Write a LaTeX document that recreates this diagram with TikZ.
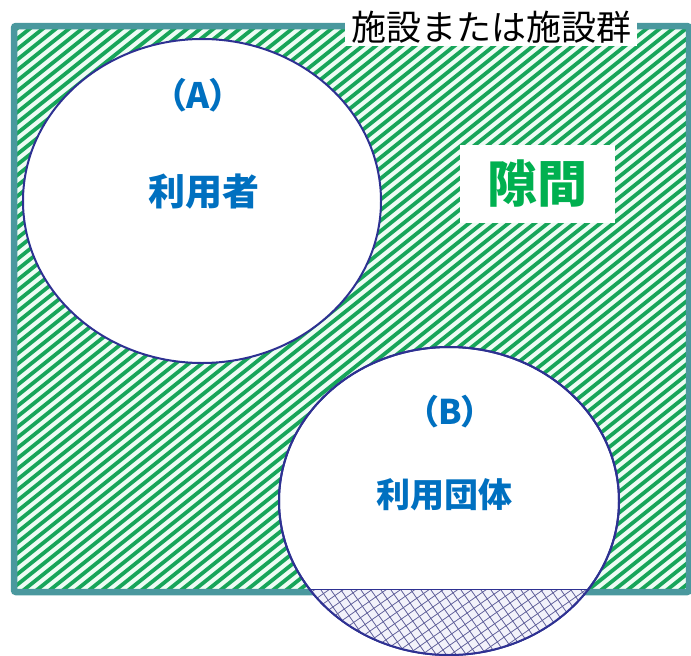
\documentclass[tikz,border=0pt]{standalone}
\usepackage{fontspec}
\setmainfont{Noto Sans CJK JP}
\newfontfamily\jpp[RawFeature=+palt]{Noto Sans CJK JP}
\usetikzlibrary{shapes.geometric}
\definecolor{frameteal}{HTML}{4A989E}
\definecolor{hatchgreen}{HTML}{17A55A}
\definecolor{hatchbg}{HTML}{EEFCF4}
\definecolor{circnavy}{HTML}{2E3192}
\definecolor{txtblue}{HTML}{0070C0}
\definecolor{txtgreen}{HTML}{00B050}
\definecolor{xhline}{HTML}{5A5A96}
\definecolor{xhbg}{HTML}{F2F2FA}
\tikzset{
  hatchline/.style={draw=hatchgreen, line width=3.8pt},
  framebox/.style={draw=frameteal, line width=6.5pt, rounded corners=2pt},
  circ/.style={ellipse, draw=circnavy, line width=2pt, fill=white, inner sep=0pt},
  circline/.style={ellipse, draw=circnavy, line width=2pt, inner sep=0pt},
  bluetxt/.style={text=txtblue, font=\jpp\bfseries\fontsize{#1}{#1}\selectfont, inner sep=0pt},
  labelbox/.style={fill=white, inner xsep=6pt, inner ysep=3pt, font=\fontsize{35}{38}\selectfont},
  gapbox/.style={fill=white, text=txtgreen, font=\bfseries\fontsize{50}{52}\selectfont, minimum width=155pt, minimum height=78pt, inner sep=0pt},
  xhatch/.style={draw=xhline, line width=0.75pt}
}
\begin{document}
\begin{tikzpicture}[x=1pt,y=-1pt]
\useasboundingbox (0,0) rectangle (691,656);
% hatched area
\begin{scope}
  \clip (14,26) rectangle (689,592);
  \fill[hatchbg] (0,0) rectangle (691,656);
  \foreach \b in {0,10.5,...,1200} \draw[hatchline] (0,\b) -- (700,\b-560);
\end{scope}
\draw[framebox] (14,26) rectangle (689,592);
% label
\node[labelbox] (lbl) at (491,27) {施設または施設群};
% circle B
\node[circ, minimum width=340pt, minimum height=308pt] (B) at (449,501) {};
\begin{scope}
  \clip (449,501) ellipse [x radius=170, y radius=154];
  \clip (0,589) rectangle (691,660);
  \fill[xhbg] (0,580) rectangle (691,660);
  \foreach \b in {560,570,...,1200} \draw[xhatch] (0,\b) -- (700,\b-490);
  \foreach \b in {-200,-190,...,700} \draw[xhatch] (\b,560) -- (\b+70,660);
  \draw[draw=circnavy, line width=0.8pt] (0,589.5) -- (691,589.5);
\end{scope}
\node[circline, minimum width=340pt, minimum height=308pt] at (B) {};
% circle A
\node[circ, minimum width=358pt, minimum height=324pt] (A) at (202,201) {};
% texts
\node[bluetxt=35] (At) at (198,95) {（A）};
\node[bluetxt=37] (Au) at (204,192) {利用者};
\node[bluetxt=34] (Bt) at (450,412) {（B）};
\node[bluetxt=34] (Bu) at (444,495) {利用団体};
\node[gapbox] (gap) at (537,184) {隙間};
\end{tikzpicture}
\end{document}
